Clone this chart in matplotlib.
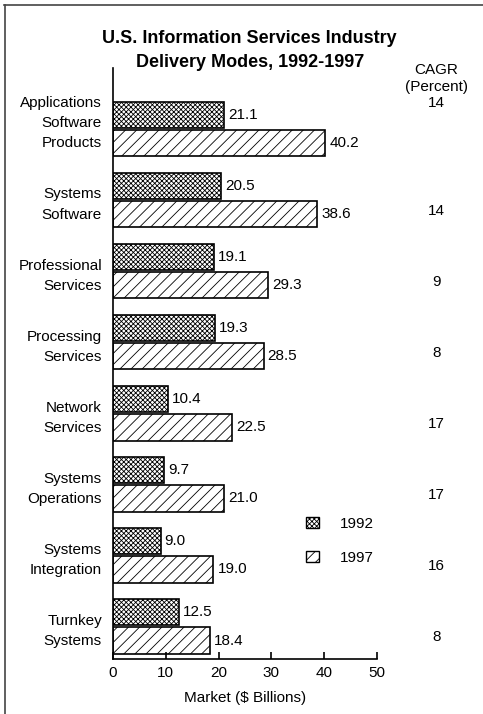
import numpy as np
import matplotlib
matplotlib.use("Agg")
import matplotlib.pyplot as plt
from matplotlib.patches import Patch
from matplotlib.lines import Line2D

plt.rcParams['font.family'] = ['Liberation Sans', 'DejaVu Sans']
plt.rcParams['hatch.linewidth'] = 0.6

categories = ['Applications\nSoftware\nProducts', 'Systems\nSoftware',
              'Professional\nServices', 'Processing\nServices',
              'Network\nServices', 'Systems\nOperations',
              'Systems\nIntegration', 'Turnkey\nSystems']
val_1992 = [21.1, 20.5, 19.1, 19.3, 10.4, 9.7, 9.0, 12.5]
val_1997 = [40.2, 38.6, 29.3, 28.5, 22.5, 21.0, 19.0, 18.4]
cagr = [14, 14, 9, 8, 17, 17, 16, 8]
xticks = [0, 10, 20, 30, 40, 50]

fig = plt.figure(figsize=(4.83, 7.14), dpi=100)
ax = fig.add_axes([0.234, 0.077, 0.5466, 0.828])

y = np.arange(len(categories))
h = 0.37
off = 0.2
h92 = 'xxxxxxx'
h97 = '///'
b1 = ax.barh(y - off, val_1992, height=h, color='white', edgecolor='black',
             linewidth=1.2, hatch=h92)
b2 = ax.barh(y + off, val_1997, height=h, color='white', edgecolor='black',
             linewidth=1.2, hatch=h97)

for yy, v in zip(y - off, val_1992):
    ax.annotate(f'{v:.1f}', (v, yy), xytext=(3, 0), textcoords='offset points',
                va='center', ha='left', fontsize=11)
for yy, v in zip(y + off, val_1997):
    ax.annotate(f'{v:.1f}', (v, yy), xytext=(3, 0), textcoords='offset points',
                va='center', ha='left', fontsize=11)

# CAGR column
ax.text(61.2, -0.83, 'CAGR', ha='center', va='center', fontsize=11, clip_on=False)
ax.text(61.2, -0.59, '(Percent)', ha='center', va='center', fontsize=11, clip_on=False)
for i, c in enumerate(cagr):
    yy = -0.36 if i == 0 else i + 0.155
    ax.text(61.2, yy, str(c), ha='center', va='center', fontsize=11, clip_on=False)

ax.set_xlim(0, 50)
ax.set_ylim(7.46, -0.86)
ax.set_xticks(xticks)
# the three-line label sits a little higher than its bar pair
label_pos = y.astype(float)
label_pos[0] -= 0.15
ax.set_yticks(label_pos)
ax.set_yticklabels(categories, fontsize=11, linespacing=1.55)
ax.tick_params(axis='y', length=0, pad=8)
ax.tick_params(axis='x', direction='in', length=5, width=1.2, labelsize=11, pad=5)
ax.spines['top'].set_visible(False)
ax.spines['right'].set_visible(False)
ax.spines['left'].set_linewidth(1.2)
ax.spines['bottom'].set_linewidth(1.2)
ax.set_xlabel('Market ($ Billions)', fontsize=11, labelpad=8)

handles = [Patch(facecolor='white', edgecolor='black', hatch=h92, linewidth=1),
           Patch(facecolor='white', edgecolor='black', hatch=h97, linewidth=1)]
ax.legend(handles, ['1992', '1997'], loc='center left',
          bbox_to_anchor=(0.68, 0.2), frameon=False, fontsize=11,
          handlelength=0.8, handleheight=0.8, handletextpad=1.4, labelspacing=1.3)

fig.text(0.517, 1 - 50.5 / 714, 'U.S. Information Services Industry\nDelivery Modes, 1992-1997',
         ha='center', va='center', fontsize=13, fontweight='bold', linespacing=1.55)

# frame lines (top and left)
fig.add_artist(Line2D([4 / 483, 1], [1 - 5 / 714, 1 - 5 / 714], color='#444444', linewidth=1.2))
fig.add_artist(Line2D([5 / 483, 5 / 483], [0, 1 - 5 / 714], color='#444444', linewidth=1.2))

fig.savefig('out.png', dpi=100)
